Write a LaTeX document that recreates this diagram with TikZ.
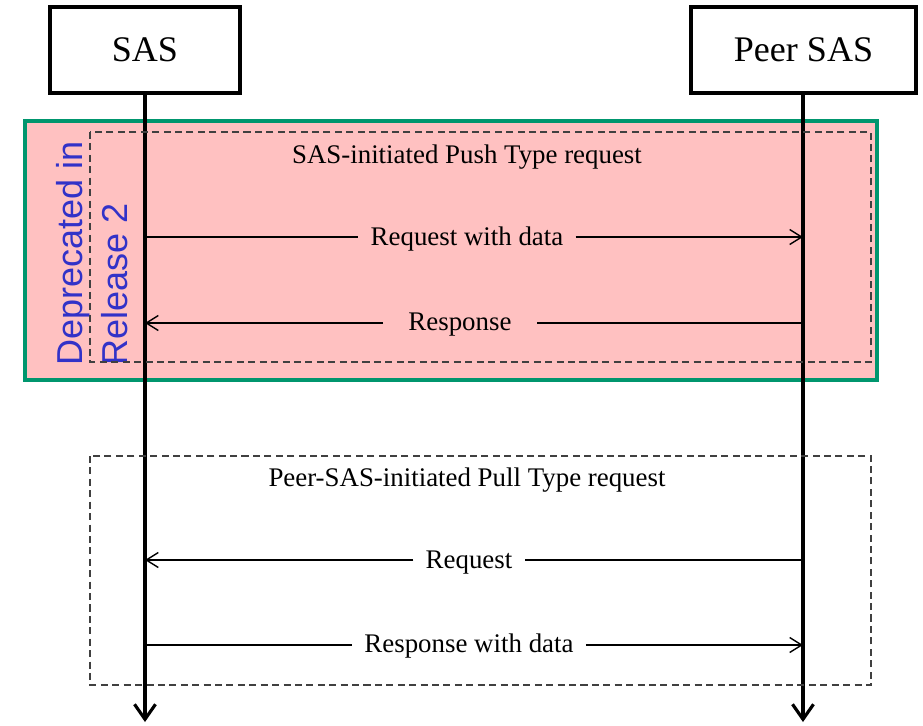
\documentclass[tikz,border=0pt]{standalone}
\usepackage{fontspec}
\setmainfont{Liberation Serif}
\newfontfamily\notefont{Liberation Sans}
\usetikzlibrary{arrows.meta}

\definecolor{notepink}{RGB}{255,193,193}
\definecolor{notegreen}{RGB}{0,150,110}
\definecolor{noteblue}{RGB}{50,50,200}

\tikzset{entity/.style={draw,line width=2pt,minimum height=1.72cm,font=\fontsize{20.5}{24}\selectfont},text centered}
\tikzset{lifeline/.style={line width=1.8pt,-{Straight Barb[length=3mm,width=4.2mm]}}}
\tikzset{msg/.style={inner xsep=0.24cm,inner ysep=0pt,text height=10pt,text depth=0pt,font=\fontsize{15.3}{18}\selectfont}}
\tikzset{msgline/.style={line width=0.8pt}, msgarrow/.style={msgline,-{Straight Barb[length=2.4mm,width=3mm]}}}
\tikzset{group/.style={draw=black!75,line width=0.7pt,dash pattern=on 4pt off 2.5pt}}

\begin{document}
\begin{tikzpicture}[x=0.02cm,y=-0.02cm]
  \useasboundingbox (0,0) rectangle (923,725);
  % deprecated part
  \filldraw [fill=notepink,draw=notegreen,line width=2.3pt] (25,121) rectangle (877,380);
  \node [anchor=north west,rotate=90,inner sep=0pt,align=left,text=noteblue,font=\notefont\fontsize{20.5}{25.5}\selectfont] (note) at (56,366) {Deprecated in\\Release 2};

  % the two sides
  \node [entity,minimum width=3.8cm] (sas) at (145,50) {SAS};
  \node [entity,minimum width=4.5cm] (peer) at (803.5,50) {Peer SAS};
  \coordinate (sasend) at (145,722);
  \coordinate (peerend) at (803,722);
  \draw [lifeline] (sas.south) -- (sasend);
  \draw [lifeline] (peer.south -| peerend) -- (peerend);

  % push type
  \draw [group] (90,132) rectangle (871,362);
  \node [msg] (push) at (467,155) {SAS-initiated Push Type request};
  \coordinate (s1) at (145,237); \coordinate (p1) at (803,237);
  \node [msg] (m1) at (467,237) {Request with data};
  \draw [msgline] (s1) -- (m1);
  \draw [msgarrow] (m1) -- (p1);
  \coordinate (s2) at (145,323); \coordinate (p2) at (803,323);
  \node [msg,inner xsep=0.5cm] (m2) at (460,322) {Response};
  \draw [msgline] (p2) -- (m2.east |- p2);
  \draw [msgarrow] (m2.west |- s2) -- (s2);

  % pull type
  \draw [group] (90,456) rectangle (871,685);
  \node [msg] (pull) at (467,478) {Peer-SAS-initiated Pull Type request};
  \coordinate (s3) at (145,560); \coordinate (p3) at (803,560);
  \node [msg] (m3) at (469,560) {Request};
  \draw [msgline] (p3) -- (m3);
  \draw [msgarrow] (m3) -- (s3);
  \coordinate (s4) at (145,645); \coordinate (p4) at (803,645);
  \node [msg] (m4) at (469,644) {Response with data};
  \draw [msgline] (s4) -- (m4.west |- s4);
  \draw [msgarrow] (m4.east |- p4) -- (p4);
\end{tikzpicture}
\end{document}
